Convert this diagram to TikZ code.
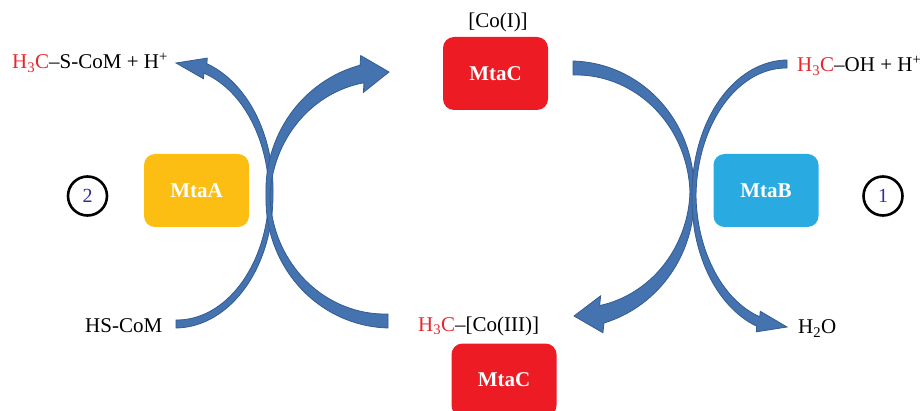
\documentclass[tikz,border=0pt]{standalone}
\usepackage{fontspec}
\setmainfont{Liberation Serif}
\definecolor{mtared}{HTML}{ED1C24}
\definecolor{mtayellow}{HTML}{FDBE13}
\definecolor{mtablue}{HTML}{29ABE2}
\definecolor{chred}{HTML}{E8262B}
\definecolor{arrfill}{HTML}{4473B0}
\definecolor{arredge}{HTML}{335C91}
\definecolor{numblue}{HTML}{2E3192}
% geometry of a tapered curved arrow: centre x, centre y, x radius, y radius, tail angle, vertex angle, head-base angle
\newcommand\setband[7]{\def\bacx{#1}\def\bacy{#2}\def\bara{#3}\def\barb{#4}\def\bata{#5}\def\batv{#6}\def\batb{#7}}
% widths: tail, vertex, head base; tip x, tip y; head width
\newcommand\setbandw[6]{\def\bawa{#1}\def\bawv{#2}\def\bawb{#3}\def\batx{#4}\def\baty{#5}\def\bahw{#6}}
\def\bawid{((((\x)-\batv)*(\bata-\batv)>0) ? (\bawv+(\bawa-\bawv)*((\x)-\batv)/(\bata-\batv)) : (\bawv+(\bawb-\bawv)*((\x)-\batv)/(\batb-\batv)))}
\newcommand\drawband{%
 \pgfmathsetmacro\bacs{cos(\batb)}%
 \pgfmathsetmacro\basn{sin(\batb)}%
 \pgfmathsetmacro\bapx{\bacx+\bara*\bacs}%
 \pgfmathsetmacro\bapy{\bacy+\barb*\basn}%
 \pgfmathsetmacro\banx{\barb*\bacs}%
 \pgfmathsetmacro\bany{\bara*\basn}%
 \pgfmathsetmacro\banl{veclen(\banx,\bany)}%
 \pgfmathsetmacro\banx{\banx/\banl}%
 \pgfmathsetmacro\bany{\bany/\banl}%
 \pgfmathsetmacro\badx{\batx-\bapx}%
 \pgfmathsetmacro\bady{\baty-\bapy}%
 \pgfmathsetmacro\bal{veclen(\badx,\bady)}%
 \pgfmathsetmacro\badx{\badx/\bal}%
 \pgfmathsetmacro\bady{\bady/\bal}%
 \pgfmathsetmacro\bahx{-(\bady)}%
 \pgfmathsetmacro\bahy{\badx}%
 \pgfmathsetmacro\basg{(((\bahx)*(\banx)+(\bahy)*(\bany))<0) ? -1 : 1}%
 \pgfmathsetmacro\bahx{(\basg)*(\bahx)}%
 \pgfmathsetmacro\bahy{(\basg)*(\bahy)}%
 \filldraw[bandarrow] plot[domain=\bata:\batb, samples=70, variable=\x]
   ({\bacx+(\bara+0.5*\bawid)*cos(\x)},{\bacy+(\barb+0.5*\bawid)*sin(\x)})
  -- ({\bapx+0.5*\bahw*(\bahx)},{\bapy+0.5*\bahw*(\bahy)})
  -- (\batx,\baty)
  -- ({\bapx-0.5*\bahw*(\bahx)},{\bapy-0.5*\bahw*(\bahy)})
  -- plot[domain=\batb:\bata, samples=70, variable=\x]
   ({\bacx+(\bara-0.5*\bawid)*cos(\x)},{\bacy+(\barb-0.5*\bawid)*sin(\x)})
  -- cycle;}
\tikzset{
  bandarrow/.style={fill=arrfill, draw=arredge, line width=0.8pt},
  enzyme/.style={rounded corners=11pt, minimum width=105pt, minimum height=73pt,
    text=white, font=\bfseries\fontsize{21}{25}\selectfont, inner sep=0pt},
  lab/.style={font=\fontsize{21}{25}\selectfont, inner sep=0pt},
  stepnum/.style={circle, draw=black, line width=2.6pt, minimum size=39pt, inner sep=0pt,
    text=numblue, font=\fontsize{20}{24}\selectfont}
}
\begin{document}
\begin{tikzpicture}[x=1pt, y=-1pt]
\useasboundingbox (0,0) rectangle (920,411);
% enzymes
\node[enzyme, fill=mtared] (mtactop) at (495.5,73.5) {MtaC};
\node[enzyme, fill=mtared] (mtacbot) at (504,380) {MtaC};
\node[enzyme, fill=mtayellow] (mtaa) at (196.5,190.5) {MtaA};
\node[enzyme, fill=mtablue] (mtab) at (766,190.5) {MtaB};
% step numbers
\node[stepnum] (two) at (87.5,196) {2};
\node[stepnum] (one) at (883,196) {1};
% labels
\node[lab, anchor=base] (coI) at (498,28) {[Co(I)]};
\node[lab, anchor=base west] (mescom) at (12,69) {\textcolor{chred}{H\textsubscript{3}C}–S-CoM + H\textsuperscript{+}};
\node[lab, anchor=base west] (meoh) at (797,72) {\textcolor{chred}{H\textsubscript{3}C}–OH + H\textsuperscript{+}};
\node[lab, anchor=base west] (hscom) at (85,332) {HS-CoM};
\node[lab, anchor=base west] (coIII) at (418,331) {\textcolor{chred}{H\textsubscript{3}C}–[Co(III)]};
\node[lab, anchor=base west] (water) at (798,334) {H\textsubscript{2}O};
% left pair of arrows (MtaA)
\setband{176}{193}{95}{131}{90}{0}{-72}\setbandw{8}{4}{10}{176}{63}{21}\drawband
\setband{388}{196}{120}{125}{90}{180}{257.5}\setbandw{14}{4}{18}{389}{72}{37}\drawband
% right pair of arrows (MtaB)
\setband{573}{193}{119}{125}{-90}{0}{76}\setbandw{14}{4}{18}{574}{316}{37}\drawband
\setband{787}{196}{93}{132}{270}{180}{108}\setbandw{8}{4}{10}{787}{327}{21}\drawband
\end{tikzpicture}
\end{document}
